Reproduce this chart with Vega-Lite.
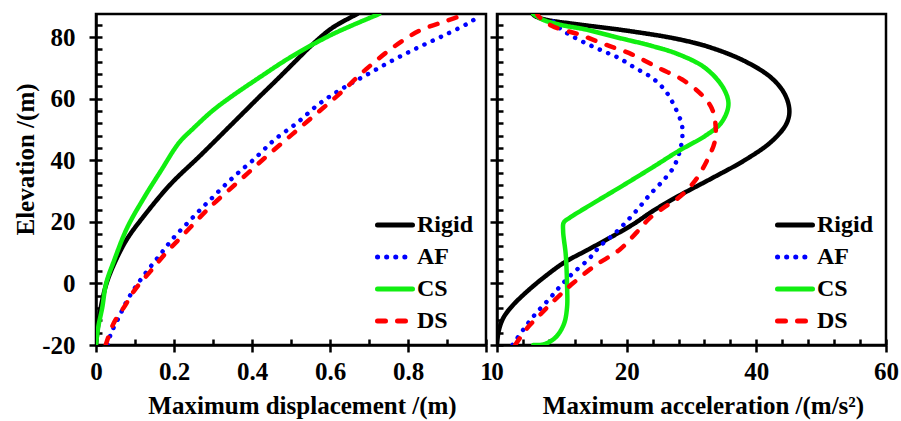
{
  "$schema": "https://vega.github.io/schema/vega-lite/v6.json",
  "padding": {"left": 12, "top": 12, "right": 0, "bottom": 0},
  "background": "white",
  "config": {
    "view": {"stroke": "black", "strokeWidth": 2.5},
    "font": "Liberation Serif",
    "axis": {
      "domainColor": "black", "domainWidth": 2.5, "tickColor": "black", "tickWidth": 2.5,
      "labelFont": "Liberation Serif", "labelFontWeight": "bold", "labelFontSize": 25, "labelColor": "black",
      "titleFont": "Liberation Serif", "titleFontWeight": "bold", "titleFontSize": 25, "titleColor": "black",
      "grid": false, "labelFlush": false, "labelOverlap": false
    },
    "legend": {
      "labelFont": "Liberation Serif", "labelFontWeight": "bold", "labelFontSize": 24, "labelColor": "black",
      "symbolType": "stroke", "symbolSize": 1225, "symbolStrokeWidth": 5, "rowPadding": -4, "labelOffset": 2,
      "orient": "bottom-right", "offset": 12, "title": null
    }
  },
  "datasets": {
    "disp": [
      {"series": "Rigid", "x": 0.0, "y": -20}, {"series": "Rigid", "x": 0.005, "y": -14}, {"series": "Rigid", "x": 0.012, "y": -8},
      {"series": "Rigid", "x": 0.027, "y": 0}, {"series": "Rigid", "x": 0.05, "y": 7.3}, {"series": "Rigid", "x": 0.08, "y": 14.5},
      {"series": "Rigid", "x": 0.123, "y": 21.9}, {"series": "Rigid", "x": 0.191, "y": 32.2}, {"series": "Rigid", "x": 0.268, "y": 41.6},
      {"series": "Rigid", "x": 0.345, "y": 51.3}, {"series": "Rigid", "x": 0.418, "y": 60.5}, {"series": "Rigid", "x": 0.461, "y": 65.8},
      {"series": "Rigid", "x": 0.503, "y": 71.1}, {"series": "Rigid", "x": 0.555, "y": 77.6}, {"series": "Rigid", "x": 0.606, "y": 83.0},
      {"series": "Rigid", "x": 0.67, "y": 87.5},
      {"series": "AF", "x": 0.03, "y": -20}, {"series": "AF", "x": 0.038, "y": -16.4}, {"series": "AF", "x": 0.059, "y": -10.9},
      {"series": "AF", "x": 0.08, "y": -5.5}, {"series": "AF", "x": 0.106, "y": -0.3}, {"series": "AF", "x": 0.136, "y": 4.8},
      {"series": "AF", "x": 0.166, "y": 9.6}, {"series": "AF", "x": 0.196, "y": 14.4}, {"series": "AF", "x": 0.23, "y": 19.0},
      {"series": "AF", "x": 0.264, "y": 23.5}, {"series": "AF", "x": 0.298, "y": 27.8}, {"series": "AF", "x": 0.333, "y": 32.2},
      {"series": "AF", "x": 0.368, "y": 36.3}, {"series": "AF", "x": 0.405, "y": 40.3}, {"series": "AF", "x": 0.44, "y": 44.6},
      {"series": "AF", "x": 0.461, "y": 47.0}, {"series": "AF", "x": 0.516, "y": 52.2}, {"series": "AF", "x": 0.572, "y": 58.3},
      {"series": "AF", "x": 0.632, "y": 63.3}, {"series": "AF", "x": 0.696, "y": 67.9}, {"series": "AF", "x": 0.76, "y": 72.4},
      {"series": "AF", "x": 0.824, "y": 76.5}, {"series": "AF", "x": 0.888, "y": 80.3}, {"series": "AF", "x": 0.956, "y": 84.6},
      {"series": "AF", "x": 0.985, "y": 87.0},
      {"series": "CS", "x": 0.0, "y": -20}, {"series": "CS", "x": 0.006, "y": -14}, {"series": "CS", "x": 0.016, "y": -7.9},
      {"series": "CS", "x": 0.026, "y": 0}, {"series": "CS", "x": 0.046, "y": 7.3}, {"series": "CS", "x": 0.08, "y": 18.1},
      {"series": "CS", "x": 0.123, "y": 27.8}, {"series": "CS", "x": 0.166, "y": 36.5}, {"series": "CS", "x": 0.213, "y": 45.7},
      {"series": "CS", "x": 0.25, "y": 50.4}, {"series": "CS", "x": 0.298, "y": 56.0}, {"series": "CS", "x": 0.345, "y": 60.5},
      {"series": "CS", "x": 0.418, "y": 66.8}, {"series": "CS", "x": 0.503, "y": 73.8}, {"series": "CS", "x": 0.606, "y": 80.9},
      {"series": "CS", "x": 0.726, "y": 87.5},
      {"series": "DS", "x": 0.025, "y": -20}, {"series": "DS", "x": 0.045, "y": -13}, {"series": "DS", "x": 0.073, "y": -7.5},
      {"series": "DS", "x": 0.1, "y": -2}, {"series": "DS", "x": 0.14, "y": 4.0}, {"series": "DS", "x": 0.18, "y": 10.0},
      {"series": "DS", "x": 0.221, "y": 15.4}, {"series": "DS", "x": 0.29, "y": 24.5}, {"series": "DS", "x": 0.362, "y": 32.7},
      {"series": "DS", "x": 0.435, "y": 41.0}, {"series": "DS", "x": 0.503, "y": 48.4}, {"series": "DS", "x": 0.563, "y": 54.9},
      {"series": "DS", "x": 0.623, "y": 61.4}, {"series": "DS", "x": 0.692, "y": 69.5}, {"series": "DS", "x": 0.76, "y": 76.5},
      {"series": "DS", "x": 0.828, "y": 82.0}, {"series": "DS", "x": 0.897, "y": 85.2}, {"series": "DS", "x": 0.95, "y": 87.5}
    ],
    "acc": [
      {"series": "Rigid", "x": 0.0, "y": -20}, {"series": "Rigid", "x": 0.26, "y": -15.5}, {"series": "Rigid", "x": 1.0, "y": -11.1},
      {"series": "Rigid", "x": 2.4, "y": -7.2}, {"series": "Rigid", "x": 4.7, "y": -2.5}, {"series": "Rigid", "x": 7.2, "y": 1.9},
      {"series": "Rigid", "x": 10.3, "y": 6.7}, {"series": "Rigid", "x": 13.9, "y": 10.8}, {"series": "Rigid", "x": 17.9, "y": 15.4},
      {"series": "Rigid", "x": 21.0, "y": 19.2}, {"series": "Rigid", "x": 24.1, "y": 23.6}, {"series": "Rigid", "x": 28.0, "y": 28.4},
      {"series": "Rigid", "x": 33.1, "y": 34.1}, {"series": "Rigid", "x": 38.2, "y": 40.0}, {"series": "Rigid", "x": 42.3, "y": 46.0},
      {"series": "Rigid", "x": 44.6, "y": 51.7}, {"series": "Rigid", "x": 45.1, "y": 56.0}, {"series": "Rigid", "x": 44.4, "y": 61.4},
      {"series": "Rigid", "x": 42.3, "y": 66.8}, {"series": "Rigid", "x": 38.2, "y": 72.2}, {"series": "Rigid", "x": 33.1, "y": 76.5},
      {"series": "Rigid", "x": 28.0, "y": 79.3}, {"series": "Rigid", "x": 20.3, "y": 82.0}, {"series": "Rigid", "x": 12.6, "y": 84.1},
      {"series": "Rigid", "x": 7.4, "y": 85.7}, {"series": "Rigid", "x": 5.9, "y": 86.8}, {"series": "Rigid", "x": 5.5, "y": 87.5},
      {"series": "AF", "x": 2.4, "y": -20}, {"series": "AF", "x": 4.1, "y": -14.9}, {"series": "AF", "x": 5.9, "y": -10.0},
      {"series": "AF", "x": 8.0, "y": -5.2}, {"series": "AF", "x": 9.8, "y": -0.8}, {"series": "AF", "x": 11.8, "y": 3.5},
      {"series": "AF", "x": 14.1, "y": 7.8}, {"series": "AF", "x": 15.9, "y": 12.1}, {"series": "AF", "x": 18.3, "y": 16.5},
      {"series": "AF", "x": 20.3, "y": 20.8}, {"series": "AF", "x": 22.1, "y": 25.1}, {"series": "AF", "x": 23.6, "y": 28.9},
      {"series": "AF", "x": 25.1, "y": 32.2}, {"series": "AF", "x": 27.2, "y": 37.6}, {"series": "AF", "x": 28.2, "y": 43.0},
      {"series": "AF", "x": 28.6, "y": 47.9}, {"series": "AF", "x": 28.5, "y": 51.7}, {"series": "AF", "x": 27.5, "y": 57.0},
      {"series": "AF", "x": 26.0, "y": 62.5}, {"series": "AF", "x": 23.9, "y": 66.8}, {"series": "AF", "x": 21.3, "y": 70.0},
      {"series": "AF", "x": 18.7, "y": 73.3}, {"series": "AF", "x": 16.2, "y": 75.6}, {"series": "AF", "x": 13.6, "y": 78.1},
      {"series": "AF", "x": 11.1, "y": 80.9}, {"series": "AF", "x": 9.5, "y": 83.2}, {"series": "AF", "x": 8.5, "y": 85.5},
      {"series": "AF", "x": 8.0, "y": 87.5},
      {"series": "CS", "x": 5.6, "y": -20}, {"series": "CS", "x": 7.2, "y": -19.8}, {"series": "CS", "x": 9.0, "y": -17.6},
      {"series": "CS", "x": 10.3, "y": -13.3}, {"series": "CS", "x": 10.8, "y": -7.9}, {"series": "CS", "x": 10.8, "y": -0.3},
      {"series": "CS", "x": 10.6, "y": 9.4}, {"series": "CS", "x": 10.2, "y": 17.0}, {"series": "CS", "x": 10.3, "y": 19.8},
      {"series": "CS", "x": 11.2, "y": 21.3}, {"series": "CS", "x": 14.5, "y": 25.6}, {"series": "CS", "x": 19.5, "y": 31.9},
      {"series": "CS", "x": 24.0, "y": 37.7}, {"series": "CS", "x": 28.0, "y": 43.0},
      {"series": "CS", "x": 32.1, "y": 47.9}, {"series": "CS", "x": 34.6, "y": 52.2}, {"series": "CS", "x": 35.7, "y": 58.1},
      {"series": "CS", "x": 34.9, "y": 63.5}, {"series": "CS", "x": 32.1, "y": 70.0}, {"series": "CS", "x": 28.0, "y": 74.4},
      {"series": "CS", "x": 23.9, "y": 77.1}, {"series": "CS", "x": 18.7, "y": 79.8}, {"series": "CS", "x": 13.6, "y": 82.5},
      {"series": "CS", "x": 9.5, "y": 84.1}, {"series": "CS", "x": 7.0, "y": 85.7}, {"series": "CS", "x": 5.6, "y": 87.5},
      {"series": "DS", "x": 2.8, "y": -20}, {"series": "DS", "x": 4.7, "y": -14.4}, {"series": "DS", "x": 6.5, "y": -10.5},
      {"series": "DS", "x": 8.2, "y": -6.8}, {"series": "DS", "x": 10.0, "y": -3.2}, {"series": "DS", "x": 11.8, "y": 0.2},
      {"series": "DS", "x": 15.0, "y": 5.6}, {"series": "DS", "x": 19.0, "y": 11.1}, {"series": "DS", "x": 21.5, "y": 16.5},
      {"series": "DS", "x": 23.6, "y": 21.3}, {"series": "DS", "x": 26.0, "y": 25.0}, {"series": "DS", "x": 28.0, "y": 27.8},
      {"series": "DS", "x": 30.5, "y": 33.2}, {"series": "DS", "x": 32.6, "y": 40.8}, {"series": "DS", "x": 33.6, "y": 46.2},
      {"series": "DS", "x": 33.7, "y": 51.7}, {"series": "DS", "x": 33.1, "y": 57.0}, {"series": "DS", "x": 31.5, "y": 61.4},
      {"series": "DS", "x": 28.5, "y": 66.3}, {"series": "DS", "x": 24.9, "y": 70.0}, {"series": "DS", "x": 20.8, "y": 74.4},
      {"series": "DS", "x": 16.7, "y": 77.6}, {"series": "DS", "x": 12.6, "y": 80.9}, {"series": "DS", "x": 8.5, "y": 83.6},
      {"series": "DS", "x": 6.4, "y": 86.8}, {"series": "DS", "x": 6.2, "y": 87.5}
    ]
  },
  "spacing": 11,
  "bounds": "flush",
  "resolve": {
    "scale": {"color": "independent", "strokeDash": "independent"},
    "legend": {"color": "independent", "strokeDash": "independent"}
  },
  "hconcat": [
    {
      "width": 390, "height": 331,
      "data": {"name": "disp"},
      "layer": [
        {
          "mark": {"type": "line", "strokeWidth": 4.5, "strokeCap": "round", "interpolate": "catmull-rom", "clip": true},
          "encoding": {
            "x": {"field": "x", "type": "quantitative", "scale": {"domain": [0, 1], "nice": false, "zero": false},
                  "axis": {"values": [0, 0.2, 0.4, 0.6, 0.8, 1], "format": "~g", "tickSize": 7, "labelPadding": 7, "titlePadding": 9, "titleX": 206, "titleAlign": "center", "title": "Maximum displacement /(m)"}},
            "y": {"field": "y", "type": "quantitative", "scale": {"domain": [-20, 87.5], "nice": false, "zero": false},
                  "axis": {"values": [-20, 0, 20, 40, 60, 80], "labelExpr": "'' + datum.value", "tickSize": 7, "labelPadding": 14, "titlePadding": 3, "titleY": 145, "title": "Elevation /(m)"}},
            "color": {"field": "series", "type": "nominal", "scale": {"domain": ["Rigid", "AF", "CS", "DS"], "range": ["#000000", "#0000FF", "#11EE11", "#FF0000"]},
                      "legend": {"encode": {"symbols": {"update": {"strokeCap": {"value": "round"}}}}}},
            "strokeDash": {"field": "series", "type": "nominal", "scale": {"domain": ["Rigid", "AF", "CS", "DS"], "range": [[1, 0], [0.1, 9], [1, 0], [8, 12]]}},
            "order": {"field": "y", "type": "quantitative"}
          }
        },
        {
          "mark": {"type": "line", "opacity": 0},
          "encoding": {
            "x": {"field": "x", "type": "quantitative",
                  "axis": {"values": [0, 0.1, 0.2, 0.3, 0.4, 0.5, 0.6, 0.7, 0.8, 0.9, 1], "tickSize": -6, "labels": false, "domain": false, "title": null, "orient": "bottom"}},
            "y": {"field": "y", "type": "quantitative",
                  "axis": {"values": [-20, -16, -12, -8, -4, 0, 4, 8, 12, 16, 20, 24, 28, 32, 36, 40, 44, 48, 52, 56, 60, 64, 68, 72, 76, 80, 84], "tickSize": -6, "labels": false, "domain": false, "title": null, "orient": "left"}},
            "order": {"field": "y", "type": "quantitative"}
          }
        }
      ],
      "resolve": {"axis": {"x": "independent", "y": "independent"}}
    },
    {
      "width": 389, "height": 331,
      "data": {"name": "acc"},
      "layer": [
        {
          "mark": {"type": "line", "strokeWidth": 4.5, "strokeCap": "round", "interpolate": "catmull-rom", "clip": true},
          "encoding": {
            "x": {"field": "x", "type": "quantitative", "scale": {"domain": [0, 60], "nice": false, "zero": false},
                  "axis": {"values": [0, 20, 40, 60], "tickSize": 7, "labelPadding": 7, "titlePadding": 9, "titleX": 206, "titleAlign": "center", "title": "Maximum acceleration /(m/s²)"}},
            "y": {"field": "y", "type": "quantitative", "scale": {"domain": [-20, 87.5], "nice": false, "zero": false},
                  "axis": {"values": [-20, 0, 20, 40, 60, 80], "tickSize": 7, "labels": false, "title": null}},
            "color": {"field": "series", "type": "nominal", "scale": {"domain": ["Rigid", "AF", "CS", "DS"], "range": ["#000000", "#0000FF", "#11EE11", "#FF0000"]},
                      "legend": {"encode": {"symbols": {"update": {"strokeCap": {"value": "round"}}}}}},
            "strokeDash": {"field": "series", "type": "nominal", "scale": {"domain": ["Rigid", "AF", "CS", "DS"], "range": [[1, 0], [0.1, 9], [1, 0], [8, 12]]}},
            "order": {"field": "y", "type": "quantitative"}
          }
        },
        {
          "mark": {"type": "line", "opacity": 0},
          "encoding": {
            "x": {"field": "x", "type": "quantitative",
                  "axis": {"values": [0, 4, 8, 12, 16, 20, 24, 28, 32, 36, 40, 44, 48, 52, 56, 60], "tickSize": -6, "labels": false, "domain": false, "title": null, "orient": "bottom"}},
            "y": {"field": "y", "type": "quantitative",
                  "axis": {"values": [-20, -16, -12, -8, -4, 0, 4, 8, 12, 16, 20, 24, 28, 32, 36, 40, 44, 48, 52, 56, 60, 64, 68, 72, 76, 80, 84], "tickSize": -6, "labels": false, "domain": false, "title": null, "orient": "left"}},
            "order": {"field": "y", "type": "quantitative"}
          }
        }
      ],
      "resolve": {"axis": {"x": "independent", "y": "independent"}}
    }
  ]
}
